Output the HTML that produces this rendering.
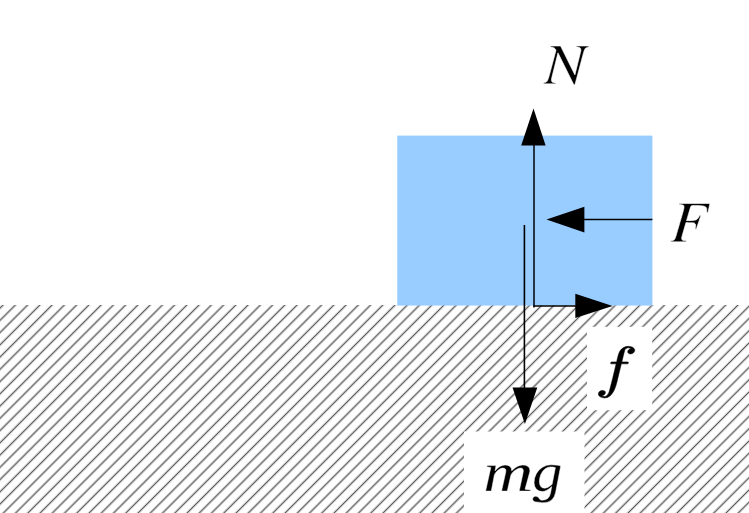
<!DOCTYPE html>
<html><head><meta charset="utf-8">
<style>
html,body{margin:0;padding:0;background:#fff;overflow:hidden;}
svg{display:block;}
text{font-family:"Liberation Serif",serif;font-style:italic;fill:#000;}
</style></head><body>
<svg width="749" height="513" viewBox="0 0 749 513">
<defs><clipPath id="hc"><rect x="0" y="305" width="749" height="208"/></clipPath>
</defs>
<g clip-path="url(#hc)" fill="none"><path d="M-207.85,516.00L6.15,302.00M-195.60,516.00L18.40,302.00M-183.35,516.00L30.65,302.00M-171.11,516.00L42.89,302.00M-158.86,516.00L55.14,302.00M-146.61,516.00L67.39,302.00M-134.36,516.00L79.64,302.00M-122.11,516.00L91.89,302.00M-109.87,516.00L104.13,302.00M-97.62,516.00L116.38,302.00M-85.37,516.00L128.63,302.00M-73.12,516.00L140.88,302.00M-60.87,516.00L153.13,302.00M-48.63,516.00L165.37,302.00M-36.38,516.00L177.62,302.00M-24.13,516.00L189.87,302.00M-11.88,516.00L202.12,302.00M0.37,516.00L214.37,302.00M12.61,516.00L226.61,302.00M24.86,516.00L238.86,302.00M37.11,516.00L251.11,302.00M49.36,516.00L263.36,302.00M61.61,516.00L275.61,302.00M73.85,516.00L287.85,302.00M86.10,516.00L300.10,302.00M98.35,516.00L312.35,302.00M110.60,516.00L324.60,302.00M122.85,516.00L336.85,302.00M135.09,516.00L349.09,302.00M147.34,516.00L361.34,302.00M159.59,516.00L373.59,302.00M171.84,516.00L385.84,302.00M184.09,516.00L398.09,302.00M196.33,516.00L410.33,302.00M208.58,516.00L422.58,302.00M220.83,516.00L434.83,302.00M233.08,516.00L447.08,302.00M245.33,516.00L459.33,302.00M257.57,516.00L471.57,302.00M269.82,516.00L483.82,302.00M282.07,516.00L496.07,302.00M294.32,516.00L508.32,302.00M306.57,516.00L520.57,302.00M318.81,516.00L532.81,302.00M331.06,516.00L545.06,302.00M343.31,516.00L557.31,302.00M355.56,516.00L569.56,302.00M367.81,516.00L581.81,302.00M380.05,516.00L594.05,302.00M392.30,516.00L606.30,302.00M404.55,516.00L618.55,302.00M416.80,516.00L630.80,302.00M429.05,516.00L643.05,302.00M441.29,516.00L655.29,302.00M453.54,516.00L667.54,302.00M465.79,516.00L679.79,302.00M478.04,516.00L692.04,302.00M490.29,516.00L704.29,302.00M502.53,516.00L716.53,302.00M514.78,516.00L728.78,302.00M527.03,516.00L741.03,302.00M539.28,516.00L753.28,302.00M551.53,516.00L765.53,302.00M563.77,516.00L777.77,302.00M576.02,516.00L790.02,302.00M588.27,516.00L802.27,302.00M600.52,516.00L814.52,302.00M612.77,516.00L826.77,302.00M625.01,516.00L839.01,302.00M637.26,516.00L851.26,302.00M649.51,516.00L863.51,302.00M661.76,516.00L875.76,302.00M674.01,516.00L888.01,302.00M686.25,516.00L900.25,302.00M698.50,516.00L912.50,302.00M710.75,516.00L924.75,302.00M723.00,516.00L937.00,302.00M735.25,516.00L949.25,302.00M747.49,516.00L961.49,302.00" stroke="#c4c4c4" stroke-width="2.6"/><path d="M-207.85,516.00L6.15,302.00M-195.60,516.00L18.40,302.00M-183.35,516.00L30.65,302.00M-171.11,516.00L42.89,302.00M-158.86,516.00L55.14,302.00M-146.61,516.00L67.39,302.00M-134.36,516.00L79.64,302.00M-122.11,516.00L91.89,302.00M-109.87,516.00L104.13,302.00M-97.62,516.00L116.38,302.00M-85.37,516.00L128.63,302.00M-73.12,516.00L140.88,302.00M-60.87,516.00L153.13,302.00M-48.63,516.00L165.37,302.00M-36.38,516.00L177.62,302.00M-24.13,516.00L189.87,302.00M-11.88,516.00L202.12,302.00M0.37,516.00L214.37,302.00M12.61,516.00L226.61,302.00M24.86,516.00L238.86,302.00M37.11,516.00L251.11,302.00M49.36,516.00L263.36,302.00M61.61,516.00L275.61,302.00M73.85,516.00L287.85,302.00M86.10,516.00L300.10,302.00M98.35,516.00L312.35,302.00M110.60,516.00L324.60,302.00M122.85,516.00L336.85,302.00M135.09,516.00L349.09,302.00M147.34,516.00L361.34,302.00M159.59,516.00L373.59,302.00M171.84,516.00L385.84,302.00M184.09,516.00L398.09,302.00M196.33,516.00L410.33,302.00M208.58,516.00L422.58,302.00M220.83,516.00L434.83,302.00M233.08,516.00L447.08,302.00M245.33,516.00L459.33,302.00M257.57,516.00L471.57,302.00M269.82,516.00L483.82,302.00M282.07,516.00L496.07,302.00M294.32,516.00L508.32,302.00M306.57,516.00L520.57,302.00M318.81,516.00L532.81,302.00M331.06,516.00L545.06,302.00M343.31,516.00L557.31,302.00M355.56,516.00L569.56,302.00M367.81,516.00L581.81,302.00M380.05,516.00L594.05,302.00M392.30,516.00L606.30,302.00M404.55,516.00L618.55,302.00M416.80,516.00L630.80,302.00M429.05,516.00L643.05,302.00M441.29,516.00L655.29,302.00M453.54,516.00L667.54,302.00M465.79,516.00L679.79,302.00M478.04,516.00L692.04,302.00M490.29,516.00L704.29,302.00M502.53,516.00L716.53,302.00M514.78,516.00L728.78,302.00M527.03,516.00L741.03,302.00M539.28,516.00L753.28,302.00M551.53,516.00L765.53,302.00M563.77,516.00L777.77,302.00M576.02,516.00L790.02,302.00M588.27,516.00L802.27,302.00M600.52,516.00L814.52,302.00M612.77,516.00L826.77,302.00M625.01,516.00L839.01,302.00M637.26,516.00L851.26,302.00M649.51,516.00L863.51,302.00M661.76,516.00L875.76,302.00M674.01,516.00L888.01,302.00M686.25,516.00L900.25,302.00M698.50,516.00L912.50,302.00M710.75,516.00L924.75,302.00M723.00,516.00L937.00,302.00M735.25,516.00L949.25,302.00M747.49,516.00L961.49,302.00" stroke="#4a4a4a" stroke-width="0.9"/></g>
<rect x="397.3" y="135.6" width="255.1" height="169.95" fill="#99ccff"/>
<rect x="587" y="326.8" width="65.2" height="83.4" fill="#fff"/>
<rect x="464" y="431.5" width="120.5" height="90" fill="#fff"/>
<g stroke="#000" stroke-width="1.6" fill="none">
<path d="M534,145 V307.6" stroke-width="1.5"/>
<path d="M533.3,306 H576"/>
<line x1="584" y1="219.5" x2="652.4" y2="219.5"/>
<line x1="524.4" y1="225" x2="524.4" y2="388"/>
</g>
<g fill="#000">
<polygon points="533.5,108.5 521.2,145.5 545.6,145.5"/>
<polygon points="612.6,306.0 575.3,293.8 575.3,318.1"/>
<polygon points="546.5,219.5 584.4,206.8 584.4,232.4"/>
<polygon points="524.9,424 512.5,387.6 537.3,387.6"/>
</g>
<path fill="#000" stroke="#fff" stroke-width="0.6" d="M588.9 46.93 588.86 46H576.35L576.39 46.93C579.99 47.22 580.83 47.8 580.92 49.88C580.95 50.58 580.85 51.21 580.46 52.43L580.36 52.89L574.9 74.91L560.57 46H550.45L550.49 46.93C553.45 47.16 554.81 47.91 556.04 50.17L549.6 74.33C547.54 81.75 547.06 82.44 543.5 82.9L543.54 83.83H555.99L555.95 82.9C552.67 82.67 551.51 82.04 551.44 80.41C551.41 79.66 551.54 78.5 551.87 77.28L557.97 52.84L573.82 84.7H574.95L582.74 55.56C584.74 48.09 584.97 47.74 588.9 46.93Z"/>
<path fill="#000" stroke="#fff" stroke-width="0.6" d="M707.94 212.47 709.9 203.5H679.33V204.44C683.38 204.79 684.06 205.14 684.06 206.78C684.06 207.72 683.81 209.13 683.38 210.6L675.83 236.52C674.73 240.04 674.3 240.39 670.8 240.86V241.8H686.27V240.86C682.71 240.69 681.6 240.04 681.6 238.28C681.6 237.75 681.73 237.05 682.16 235.64L685.96 222.56C688.23 222.68 689.58 222.74 690.93 222.74C693.33 222.74 693.7 222.8 694.31 223.03C695.17 223.44 695.66 224.26 695.66 225.44C695.66 226.37 695.54 227.08 695.17 228.9L696.21 229.19L700.88 215.47L699.77 215.17C697.01 220.45 696.83 220.51 686.51 220.63L690.56 206.96C690.93 205.79 691.79 205.44 694.31 205.44C704.68 205.44 706.83 206.2 706.83 209.89C706.83 210.3 706.83 210.54 706.77 211.24C706.71 211.65 706.71 211.89 706.65 212.36Z"/>
<path fill="#000" stroke="#000" stroke-width="0.5" d="M601.56 395.68Q602.91 396.48 604.84 396.48Q607.44 396.48 609.08 392Q609.76 389.84 612.79 377.77L616.14 363.87H611.29Q610.58 363.87 610.58 363.13Q610.86 361.88 611.51 361.88H616.6L617.46 358.2Q617.89 356.48 618.24 355.25Q618.6 354.02 619.01 352.97Q619.42 351.91 620.24 350.61Q621.49 348.76 623.61 347.55Q625.73 346.35 628.19 346.35Q629.79 346.35 631.31 346.81Q632.82 347.26 633.79 348.18Q634.75 349.09 634.75 350.34Q634.75 351.78 633.52 352.84Q632.29 353.91 630.54 353.91Q629.37 353.91 628.53 353.34Q627.69 352.77 627.69 351.86Q627.69 350.61 628.78 349.69Q629.87 348.76 631.47 348.62Q630.12 347.82 628.12 347.82Q627.01 347.82 626.03 348.62Q625.05 349.42 624.77 350.34Q624.3 351.78 622.74 358.14L621.84 361.88H627.76Q628.48 361.88 628.48 362.63Q628.44 362.77 628.33 363.11Q628.23 363.46 628.03 363.67Q627.83 363.87 627.55 363.87H621.35L617.96 377.71Q617.32 380.73 616.48 383.85Q615.64 386.96 614.13 390.24Q612.61 393.52 610.26 395.74Q607.9 397.95 604.7 397.95Q602.24 397.95 600.29 396.86Q598.35 395.76 598.35 393.96Q598.35 392.52 599.54 391.46Q600.74 390.39 602.56 390.39Q603.77 390.39 604.59 390.96Q605.41 391.53 605.41 392.44Q605.41 393.66 604.25 394.67Q603.09 395.68 601.56 395.68Z"/>
<path fill="#000" stroke="#fff" stroke-width="0.5" d="M511.72 470.85Q514.15 468.21 517.17 466.56Q520.19 464.9 522.76 464.9Q525.66 464.9 527.79 466.35Q529.92 467.81 529.92 470.55Q529.92 471.14 529.72 472.11Q529.53 473.07 525.04 489.2L530.8 489.88L530.4 491.1H519.22L522.57 475.3Q523.32 472.01 523.32 470.79Q523.32 469.57 522.63 468.82Q521.95 468.08 520.49 468.08Q519.04 468.08 516.86 469.22Q514.68 470.36 512.92 472.14Q511.15 473.91 510.79 475.46L507.26 491.1H501.57L505.06 475.3Q505.92 471.74 505.92 470.79Q505.92 469.57 505.17 468.82Q504.41 468.08 502.8 468.08Q501.33 468.08 499.4 469.28Q497.48 470.49 496.01 472.22Q494.54 473.94 494.26 475.46L491.29 491.1H485.6L490.84 467.48L486.8 466.8L487.07 465.58H495.95L495.11 470.85Q497.21 468.16 499.89 466.53Q502.56 464.9 505.2 464.9Q508.26 464.9 509.99 466.41Q511.72 467.91 511.72 470.85Z"/>
<path fill="#000" stroke="#fff" stroke-width="0.5" d="M544.45 488.14Q546.11 488.14 548.15 487.14Q550.19 486.13 552.13 484.37L555.4 467.6Q554.69 467.43 554.12 467.3Q553.56 467.16 553.01 467.08Q552.45 467 551.83 466.96Q551.2 466.92 550.4 466.92Q547.42 466.92 544.86 468.95Q542.3 470.99 540.85 474.44Q539.39 477.88 539.39 481.76Q539.39 484.7 540.71 486.42Q542.04 488.14 544.45 488.14ZM551.71 486.62Q549.57 488.77 546.93 490.15Q544.3 491.54 542.18 491.54Q538.4 491.54 536.23 489.11Q534.06 486.68 534.06 482.47Q534.06 477.72 536.34 473.63Q538.61 469.55 542.5 467.18Q546.38 464.8 550.94 464.8Q552.72 464.8 555.59 465.11Q558.47 465.42 560.7 465.91L555.7 491.92Q554.6 497.64 551.4 500.22Q548.2 502.8 541.95 502.8Q538.4 502.01 535.73 501.96C534 501.96 532.6 500.68 532.6 499.11C532.6 497.53 534 496.26 535.73 496.26C537.51 496.26 538.55 497.48 539.3 498.84Q540.19 500.25 541.92 500.25Q545.55 500.25 547.69 498.52Q549.84 496.8 550.55 493Z"/>
</svg>
</body></html>
